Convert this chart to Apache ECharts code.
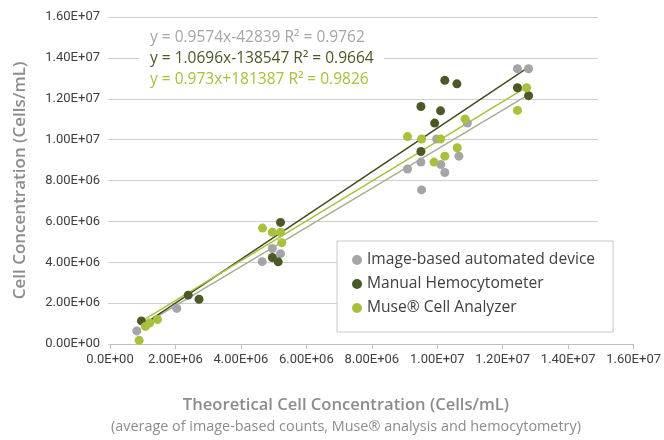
<!DOCTYPE html>
<html><head><meta charset="utf-8">
<script src="https://cdn.jsdelivr.net/npm/echarts@6/dist/echarts.min.js"></script>
<style>html,body{margin:0;padding:0;background:#fff}#c{width:664px;height:440px}</style>
</head><body><div id="c"></div>
<script>
const seriesNames = ['Image-based automated device', 'Manual Hemocytometer', 'Muse® Cell Analyzer'];
const seriesColors = ['#a5a5a8', '#4a5926', '#a8c13c'];
const trendColors = ['#a9ad93', '#3f4d20', '#a8c13c'];
const equationColors = ['#a6a6a6', '#4a5926', '#a8c13c'];

const imageBased = [[0.82e6,0.64e6],[2.04e6,1.74e6],[4.65e6,4.03e6],[4.96e6,4.67e6],[5.21e6,4.42e6],[12.45e6,13.47e6],[12.79e6,13.47e6],[10.92e6,10.81e6],[9.98e6,10.03e6],[9.09e6,8.56e6],[9.50e6,8.90e6],[10.11e6,8.78e6],[10.23e6,8.39e6],[10.66e6,9.19e6],[9.52e6,7.54e6]];
const manual = [[0.96e6,1.13e6],[2.39e6,2.39e6],[2.72e6,2.19e6],[5.21e6,5.95e6],[4.96e6,4.23e6],[5.14e6,4.02e6],[10.23e6,12.90e6],[10.60e6,12.73e6],[9.50e6,11.62e6],[10.10e6,11.41e6],[9.92e6,10.81e6],[9.50e6,9.42e6],[12.45e6,12.54e6],[12.79e6,12.15e6]];
const muse = [[0.89e6,0.18e6],[1.08e6,0.86e6],[1.21e6,1.03e6],[1.45e6,1.20e6],[4.66e6,5.67e6],[4.96e6,5.47e6],[5.21e6,5.47e6],[5.25e6,4.96e6],[9.09e6,10.15e6],[9.52e6,10.03e6],[10.10e6,10.03e6],[10.85e6,11.01e6],[10.61e6,9.60e6],[10.23e6,9.19e6],[9.90e6,8.90e6],[12.73e6,12.54e6],[12.45e6,11.43e6]];

const trendSlopes = [0.9574, 1.0696, 0.973];
const trendIntercepts = [-42839, -138547, 181387];
const trendRanges = [[1.2e6, 12.79e6], [0.96e6, 12.79e6], [1.08e6, 12.79e6]];
const equationTexts = ['y = 0.9574x-42839 R² = 0.9762', 'y = 1.0696x-138547 R² = 0.9664', 'y = 0.973x+181387 R² = 0.9826'];

const xTickLabels = ['0.0E+00','2.00E+06','4.00E+06','6.00E+06','8.00E+06','1.00E+07','1.20E+07','1.40E+07','1.60E+07'];
const yTickLabels = ['0.00E+00','2.00E+06','4.00E+06','6.00E+06','8.00E+06','1.00E+07','1.20E+07','1.40E+07','1.60E+07'];
const xTitle = 'Theoretical Cell Concentration (Cells/mL)';
const xSubtitle = '(average of image-based counts, Muse® analysis and hemocytometry)';
const yTitle = 'Cell Concentration (Cells/mL)';

const tickFont = "'Roboto', sans-serif";
const mainFont = "'Open Sans', sans-serif";
const seriesData = [imageBased, manual, muse];

const chart = echarts.init(document.getElementById('c'), null, {renderer: 'canvas'});

const series = [];
trendSlopes.forEach((m, i) => {
  const b = trendIntercepts[i];
  series.push({
    type: 'line', xAxisIndex: 0, yAxisIndex: 0, silent: true, symbol: 'none',
    data: trendRanges[i].map(x => [x, m * x + b]),
    lineStyle: {color: trendColors[i], width: 1.5}, z: 1
  });
});
seriesData.forEach((d, i) => {
  series.push({
    name: seriesNames[i], type: 'scatter', xAxisIndex: 0, yAxisIndex: 0,
    data: d, symbolSize: 9, itemStyle: {color: seriesColors[i], opacity: 1}, z: 3
  });
});

const option = {
  animation: false,
  backgroundColor: '#ffffff',
  grid: [
    {left: 110, right: 30, top: 17, bottom: 96},
    {left: 108, right: 66, top: 17, bottom: 96}
  ],
  xAxis: [
    {type: 'value', gridIndex: 0, min: 0, max: 16e6, interval: 2e6,
     axisLine: {show: true, lineStyle: {color: '#bfbfbf', width: 1}},
     axisTick: {show: true, length: 5, lineStyle: {color: '#bfbfbf'}},
     axisLabel: {color: '#404040', fontSize: 13, fontFamily: tickFont, margin: 9,
                 formatter: (v) => xTickLabels[Math.round(v / 2e6)]},
     splitLine: {show: false}
    },
    {type: 'value', gridIndex: 1, min: 0, max: 1, show: false}
  ],
  yAxis: [
    {type: 'value', gridIndex: 0, min: 0, max: 16e6, interval: 2e6,
     axisLine: {show: false}, axisTick: {show: false},
     axisLabel: {color: '#404040', fontSize: 13, fontFamily: tickFont, margin: 10,
                 formatter: (v) => yTickLabels[Math.round(v / 2e6)]},
     splitLine: {show: false},
     name: yTitle, nameLocation: 'middle', nameGap: 81,
     nameTextStyle: {fontFamily: mainFont, fontSize: 17, fontWeight: 600, color: '#8c8c8c'}
    },
    {type: 'value', gridIndex: 1, min: 0, max: 16e6, interval: 2e6,
     axisLine: {show: false}, axisTick: {show: false}, axisLabel: {show: false},
     splitLine: {show: true, lineStyle: {color: '#cfcfcf', width: 1}}
    }
  ],
  legend: {
    data: seriesNames, orient: 'vertical', left: 337, top: 241,
    padding: [11, 18, 16, 15], itemGap: 8, itemWidth: 10, itemHeight: 10,
    icon: 'circle', backgroundColor: '#ffffff', borderColor: '#c8c8c8', borderWidth: 1,
    textStyle: {fontFamily: mainFont, fontSize: 15.6, color: '#404040', lineHeight: 16, padding: [0,0,0,0]},
    itemStyle: {borderWidth: 0}
  },
  graphic: [
    {type: 'rect', left: 139, top: 28, shape: {width: 245, height: 62}, style: {fill: '#ffffff'}, z: 5, silent: true},
    ...equationTexts.map((t, i) => ({
      type: 'text', left: 150, top: 30 + i * 21, z: 6, silent: true,
      style: {text: t, fill: equationColors[i], font: "15.5px 'Open Sans', sans-serif"}
    })),
    {type: 'text', x: 346, y: 405, silent: true,
     style: {text: xTitle, fill: '#8c8c8c', align: 'center', verticalAlign: 'middle',
             font: "600 16.6px 'Open Sans', sans-serif"}},
    {type: 'text', x: 346, y: 427, silent: true,
     style: {text: xSubtitle, fill: '#8c8c8c', align: 'center', verticalAlign: 'middle',
             font: "14.4px 'Open Sans', sans-serif"}}
  ],
  series: series
};
chart.setOption(option);
</script>
</body></html>
